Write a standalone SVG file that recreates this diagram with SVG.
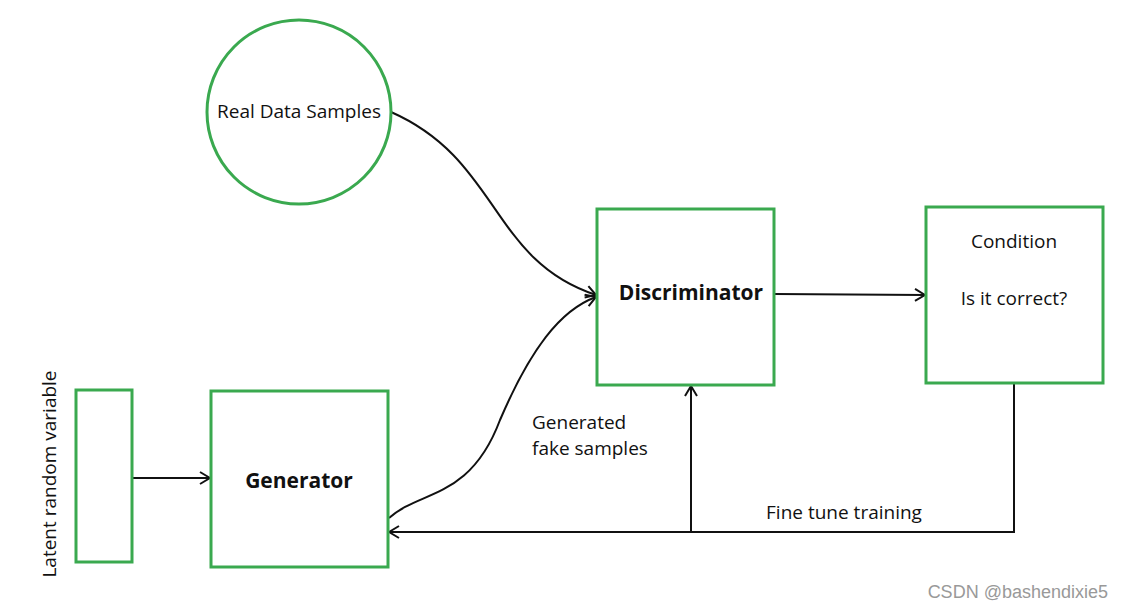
<svg xmlns="http://www.w3.org/2000/svg" width="1123" height="608" viewBox="0 0 1123 608">
<defs>
<style>
.node{fill:#fff;stroke:#3aa94f;stroke-width:3}
.con{fill:none;stroke:#111;stroke-width:2}
.t{font-family:"Open Sans","Noto Sans",sans-serif;font-size:19px;fill:#111}
.b{font-weight:bold;font-size:21px}
</style>
<marker id="arr" viewBox="0 0 12 14" refX="11" refY="7" markerWidth="12" markerHeight="14" markerUnits="userSpaceOnUse" orient="auto">
<path d="M1,1 L11,7 L1,13" fill="none" stroke="#111" stroke-width="2"/>
</marker>
</defs>
<rect width="1123" height="608" fill="#fff"/>
<g id="connectors">
<path class="con" d="M391,112 C500,160 490,260 596,295" marker-end="url(#arr)"/>
<path class="con" d="M389,518 C420,490 470,500 500,420 C530,350 560,310 596,297" marker-end="url(#arr)"/>
<path class="con" d="M775,294 L925,295" marker-end="url(#arr)"/>
<path class="con" d="M133,478 L210,478" marker-end="url(#arr)"/>
<path class="con" d="M1014,384 L1014,532 L389,532" marker-end="url(#arr)"/>
<path class="con" d="M691,532 L691,386" marker-end="url(#arr)"/>
</g>
<g id="real">
<circle class="node" cx="299" cy="112" r="92"/>
<text class="t" x="299" y="118" text-anchor="middle">Real Data Samples</text>
</g>
<g id="discriminator">
<rect class="node" x="597" y="209" width="177" height="176"/>
<text class="t b" x="691" y="300" text-anchor="middle">Discriminator</text>
</g>
<g id="condition">
<rect class="node" x="926" y="207" width="177" height="176"/>
<text class="t" x="1014" y="248" text-anchor="middle">Condition</text>
<text class="t" x="1014" y="305" text-anchor="middle">Is it correct?</text>
</g>
<g id="generator">
<rect class="node" x="211" y="391" width="177" height="176"/>
<text class="t b" x="299" y="488" text-anchor="middle">Generator</text>
</g>
<g id="latent">
<rect class="node" x="76" y="390" width="56" height="172"/>
<text class="t" transform="translate(56,474) rotate(-90)" text-anchor="middle">Latent random variable</text>
</g>
<g id="labels">
<text class="t" x="532" y="429">Generated</text>
<text class="t" x="532" y="455">fake samples</text>
<text class="t" x="844" y="519" text-anchor="middle">Fine tune training</text>
</g>
<text x="1108" y="598" text-anchor="end" font-family="Liberation Sans, Arial, sans-serif" font-size="18" fill="#999">CSDN @bashendixie5</text>
</svg>
